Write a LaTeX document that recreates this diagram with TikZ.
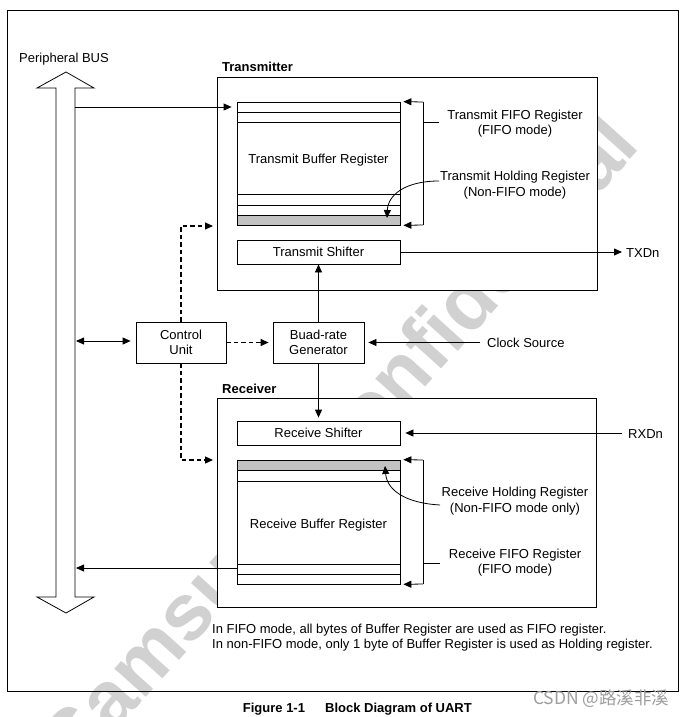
\documentclass[tikz,border=0pt]{standalone}
\usepackage{fontspec}
\setmainfont{Liberation Sans}
\newfontfamily\cjkfont{Noto Sans CJK SC}
\usetikzlibrary{arrows.meta,calc}
\definecolor{wm}{gray}{0.82}
\definecolor{regfill}{gray}{0.76}
\definecolor{csdn}{gray}{0.62}
\begin{document}
\begin{tikzpicture}[x=1pt,y=-1pt,
  txt/.style={font=\fontsize{13}{15.5}\selectfont, inner sep=0pt, text height=11.5pt, text depth=1.5pt},
  mtxt/.style={font=\fontsize{13}{15.5}\selectfont, inner sep=0pt, align=center},
  btxt/.style={font=\bfseries\fontsize{13}{15.5}\selectfont, inner sep=0pt, text height=11.5pt, text depth=1.5pt},
  ln/.style={line width=0.8pt},
  box/.style={draw, line width=0.8pt, fill=white, inner sep=0pt, align=center, font=\fontsize{13}{15.5}\selectfont},
  arr/.style={ln, -{Triangle[length=8pt,width=7pt]}},
  dbl/.style={ln, {Triangle[length=8pt,width=7pt]}-{Triangle[length=8pt,width=7pt]}},
  darr/.style={ln, line width=1.2pt, dash pattern=on 4.5pt off 3pt, -{Triangle[length=8pt,width=7pt]}}]
\useasboundingbox (0,0) rectangle (686,717);
\fill[white] (0,0) rectangle (686,717);
% watermark
\node[rotate=48, text=wm, font=\bfseries\fontsize{80}{80}\selectfont, inner sep=0pt] (wmark) at (344,447) {Samsung Confidential};
% outer frame
\draw[ln] (7,10) rectangle (678,691);
% peripheral bus
\node[txt] (pbus) at (64,58) {Peripheral BUS};
\draw[ln, fill=white] (66,72) -- (94,88) -- (75,88) -- (75,597) -- (94,597) -- (66,613) -- (37,597) -- (56,597) -- (56,88) -- (37,88) -- cycle;
\coordinate (busA) at (75,107);
\coordinate (busB) at (75,341);
\coordinate (busC) at (75,568);
% transmitter
\node[btxt, anchor=west] (txlab) at (222,66) {Transmitter};
\node[box, minimum width=380pt, minimum height=213pt] (txbox) at (407,183.5) {};
\node[box, minimum width=163pt, minimum height=123pt] (tbuf) at (318.5,163.5) {};
\fill[regfill] (237,215) rectangle (400,225);
\draw[ln] (237,112) -- (400,112) (237,122) -- (400,122) (237,194) -- (400,194) (237,205) -- (400,205) (237,215) -- (400,215);
\draw[ln] (237,102) rectangle (400,225);
\node[txt] (tbuftxt) at (318.5,158) {Transmit Buffer Register};
\node[box, minimum width=163pt, minimum height=24pt] (tsh) at (318.5,252) {Transmit Shifter};
\coordinate (tbrT) at (423,102);
\coordinate (tbrB) at (423,225);
\coordinate (tbrM) at (423,122);
\coordinate (tfifoL) at (439,122);
\draw[arr, shorten >=3pt] (tbrT) -- (tbuf.north east);
\draw[arr, shorten >=3pt] (tbrB) -- (tbuf.south east);
\draw[ln] (tbrT) -- (tbrB);
\draw[ln] (tbrM) -- (tfifoL);
\node[mtxt] (tfifo) at (515,123.5) {Transmit FIFO Register\\(FIFO mode)};
\node[mtxt] (thold) at (515,185) {Transmit Holding Register\\(Non-FIFO mode)};
\coordinate (tholdL) at (439,181);
\coordinate (tholdT) at (387,218);
\draw[arr] (tholdL) .. controls (405,181) and (388,195) .. (tholdT);
\draw[arr, shorten >=5pt] (busA) -- (busA -| tbuf.west);
\node[txt, anchor=west] (txd) at (626,252) {TXDn};
\draw[arr, shorten >=4pt] (tsh.east) -- (txd.west);
% control and baud
\node[box, minimum width=90pt, minimum height=41pt] (ctrl) at (181,342.5) {Control\\Unit};
\node[box, minimum width=91pt, minimum height=41pt] (baud) at (318.5,342.5) {Buad-rate\\Generator};
\node[txt, anchor=west] (clk) at (487,342.5) {Clock Source};
\draw[arr, shorten <=7pt, shorten >=4pt] (clk.west) -- (baud.east);
\draw[dbl, shorten <=1pt, shorten >=5pt] (busB) -- (busB -| ctrl.west);
\draw[darr, shorten >=4pt] (ctrl) -- (baud);
\coordinate (txin) at (217,226);
\coordinate (rxin) at (217,460);
\draw[darr, shorten >=4pt] (ctrl.north) -- (ctrl.north |- txin) -- (txin);
\draw[darr, shorten >=4pt] (ctrl.south) -- (ctrl.south |- rxin) -- (rxin);
\draw[arr] (baud.north) -- (baud.north |- tsh.south);
% receiver
\node[btxt, anchor=west] (rxlab) at (222,388.5) {Receiver};
\node[box, minimum width=379pt, minimum height=209pt] (rxbox) at (406.5,502.5) {};
\node[box, minimum width=163pt, minimum height=24pt] (rsh) at (318.5,433) {Receive Shifter};
\draw[arr, shorten >=3pt] (baud.south) -- (baud.south |- rsh.north);
\node[txt, anchor=west] (rxd) at (628,433) {RXDn};
\draw[arr, shorten <=6pt, shorten >=5pt] (rxd.west) -- (rsh.east);
\node[box, minimum width=163pt, minimum height=124pt] (rbuf) at (318.5,522) {};
\fill[regfill] (237,460) rectangle (400,470);
\draw[ln] (237,470) -- (400,470) (237,481) -- (400,481) (237,564) -- (400,564) (237,574) -- (400,574);
\draw[ln] (237,460) rectangle (400,584);
\node[txt] (rbuftxt) at (318.5,523) {Receive Buffer Register};
\coordinate (rbrT) at (423,460);
\coordinate (rbrB) at (423,584);
\coordinate (rbrM) at (423,563);
\coordinate (rfifoL) at (440,563);
\draw[arr, shorten >=3pt] (rbrT) -- (rbuf.north east);
\draw[arr, shorten >=3pt] (rbrB) -- (rbuf.south east);
\draw[ln] (rbrT) -- (rbrB);
\draw[ln] (rbrM) -- (rfifoL);
\node[mtxt] (rhold) at (515,501) {Receive Holding Register\\(Non-FIFO mode only)};
\node[mtxt] (rfifo) at (515,562.5) {Receive FIFO Register\\(FIFO mode)};
\coordinate (rholdL) at (440,505);
\coordinate (rholdT) at (385,466);
\draw[arr] (rholdL) .. controls (405,503) and (387,490) .. (rholdT);
\coordinate (rbout) at (237,568);
\draw[arr, shorten >=1pt] (rbout) -- (busC);
% notes
\node[txt, anchor=west] (note1) at (212,628) {In FIFO mode, all bytes of Buffer Register are used as FIFO register.};
\node[txt, anchor=west] (note2) at (212,643) {In non-FIFO mode, only 1 byte of Buffer Register is used as Holding register.};
% caption
\node[btxt] (fig) at (274,707) {Figure 1-1};
\node[btxt, anchor=west] (cap) at (325,707) {Block Diagram of UART};
\node[anchor=west, inner sep=0pt, text=csdn, font=\cjkfont\fontsize{17.5}{17.5}\selectfont] (csdn) at (533,699) {CSDN @路溪非溪};
\end{tikzpicture}
\end{document}
